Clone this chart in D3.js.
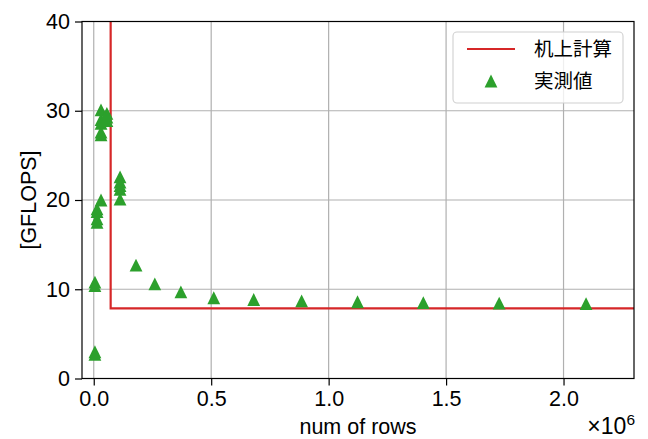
<!DOCTYPE html>
<html><head><meta charset="utf-8">
<script src="https://cdn.jsdelivr.net/npm/d3@7"></script>
<style>body{margin:0;background:#fff}svg{display:block}</style>
</head><body>
<svg id="c" width="648" height="439"></svg>
<script>
// Data (x in rows, y in GFLOPS)
const measuredX = [5000, 5000, 5000, 5000,
  14000, 14000, 14000, 14000,
  31000, 31000, 31000, 31000, 31000, 31000,
  56000, 56000, 56000,
  112000, 112000, 112000, 112000, 112000,
  180000, 260000, 371000, 511000, 681000, 885000, 1123000, 1403000, 1726000, 2096000];
const measuredY = [3.0, 2.7, 10.8, 10.4,
  17.5, 17.9, 18.7, 19.0,
  20.0, 27.3, 27.6, 28.6, 29.0, 30.1,
  28.9, 29.3, 29.7,
  20.1, 21.2, 21.6, 22.0, 22.6,
  12.7, 10.6, 9.7, 9.05, 8.85, 8.7, 8.6, 8.5, 8.45, 8.4];
const theoryX = [72000, 72000, 2300000];
const theoryY = [40, 7.85, 7.85];
const xTicks = [0, 500000, 1000000, 1500000, 2000000];
const xTickLabels = ["0.0", "0.5", "1.0", "1.5", "2.0"];
const yTicks = [0, 10, 20, 30, 40];
const legendLabels = ["机上計算", "実測値"];

const svg = d3.select("#c");
const L = 82, R = 634, T = 21.5, B = 378.5;
const x = d3.scaleLinear().domain([-50000, 2300000]).range([L, R]);
const y = d3.scaleLinear().domain([0, 40]).range([B, T]);
const font = "'Liberation Sans', Arial, sans-serif";
const cjk = "'Noto Sans CJK JP', sans-serif";
const red = "#d62728", green = "#2ca02c";
const fs = 21.5;

// grid
const g = svg.append("g");
g.selectAll(".gx").data(xTicks).enter().append("line")
  .attr("x1", d => x(d)).attr("x2", d => x(d)).attr("y1", T).attr("y2", B)
  .attr("stroke", "#b0b0b0").attr("stroke-width", 1.2);
g.selectAll(".gy").data(yTicks).enter().append("line")
  .attr("y1", d => y(d)).attr("y2", d => y(d)).attr("x1", L).attr("x2", R)
  .attr("stroke", "#b0b0b0").attr("stroke-width", 1.2);

// clip
svg.append("clipPath").attr("id", "clip").append("rect")
  .attr("x", L).attr("y", T).attr("width", R - L).attr("height", B - T);

// theory line
const line = d3.line().x((d, i) => x(theoryX[i])).y((d, i) => y(theoryY[i]));
svg.append("path").attr("clip-path", "url(#clip)")
  .attr("d", line(theoryX)).attr("fill", "none").attr("stroke", red).attr("stroke-width", 2.2);

// markers
function triPath(s) { // matplotlib-style triangle: width = height = 2s
  return `M0,${-s}L${s},${s}L${-s},${s}Z`;
}
svg.append("g").attr("clip-path", "url(#clip)").selectAll("path").data(measuredX).enter().append("path")
  .attr("d", triPath(6.4))
  .attr("transform", (d, i) => `translate(${x(d)},${y(measuredY[i])})`)
  .attr("fill", green);

// axes
const xa = svg.append("g").attr("transform", `translate(0,${B})`)
  .call(d3.axisBottom(x).tickValues(xTicks).tickFormat((d, i) => xTickLabels[i]).tickSize(7).tickPadding(5));
const ya = svg.append("g").attr("transform", `translate(${L},0)`)
  .call(d3.axisLeft(y).tickValues(yTicks).tickSize(7).tickPadding(5));
[xa, ya].forEach(a => {
  a.select(".domain").remove();
  a.selectAll("line").attr("stroke", "#000").attr("stroke-width", 1.2);
  a.selectAll("text").attr("font-family", font).attr("font-size", fs).attr("fill", "#000");
});

// frame
svg.append("rect").attr("x", L).attr("y", T).attr("width", R - L).attr("height", B - T)
  .attr("fill", "none").attr("stroke", "#000").attr("stroke-width", 1.2);

// labels
svg.append("text").attr("x", (L + R) / 2).attr("y", 434).attr("text-anchor", "middle")
  .attr("font-family", font).attr("font-size", fs).text("num of rows");
svg.append("text").attr("transform", `translate(36,${(T + B) / 2}) rotate(-90)`).attr("text-anchor", "middle")
  .attr("font-family", font).attr("font-size", fs).text("[GFLOPS]");
const off = svg.append("text").attr("x", R + 1).attr("y", 434).attr("text-anchor", "end")
  .attr("font-family", font).attr("font-size", 23);
off.append("tspan").text("×10");
off.append("tspan").attr("font-size", 15.5).attr("dy", -9).text("6");

// legend
const lg = svg.append("g");
lg.append("rect").attr("x", 453).attr("y", 32).attr("width", 170).attr("height", 71)
  .attr("rx", 4).attr("fill", "#fff").attr("fill-opacity", 0.8).attr("stroke", "#d0d0d0").attr("stroke-width", 1.1);
lg.append("line").attr("x1", 467).attr("x2", 515).attr("y1", 49).attr("y2", 49)
  .attr("stroke", red).attr("stroke-width", 2.2);
lg.append("path").attr("d", triPath(6.4)).attr("transform", "translate(491,81)").attr("fill", green);
lg.selectAll("text").data(legendLabels).enter().append("text")
  .attr("x", 534).attr("y", (d, i) => 49 + i * 32).attr("dy", "0.36em")
  .attr("font-family", cjk).attr("font-size", 19.5).text(d => d);
</script>
</body></html>
